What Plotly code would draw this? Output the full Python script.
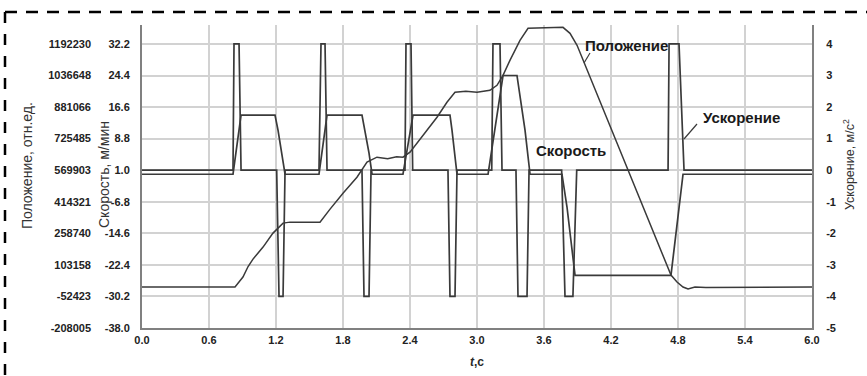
import plotly.graph_objects as go

# ---------------- data ----------------
# acceleration, m/s^2
t_acc = [0.0, 0.815, 0.824, 0.869, 0.887,
         1.206, 1.227, 1.263, 1.281,
         1.585, 1.603, 1.639, 1.657,
         1.970, 1.988, 2.033, 2.051,
         2.355, 2.364, 2.409, 2.424,
         2.740, 2.758, 2.803, 2.821,
         3.132, 3.143, 3.206, 3.224,
         3.349, 3.367, 3.448, 3.466,
         3.758, 3.788, 3.859, 3.893,
         4.711, 4.720, 4.809, 4.854, 6.0]
acc = [0, 0, 4, 4, 0,
       0, -4, -4, 0,
       0, 4, 4, 0,
       0, -4, -4, 0,
       0, 4, 4, 0,
       0, -4, -4, 0,
       0, 4, 4, 0,
       0, -4, -4, 0,
       0, -4, -4, 0,
       0, 4, 4, 0, 0]

# speed, m/min
t_speed = [0.0, 0.815, 0.887, 1.191, 1.218, 1.254, 1.281,
           1.585, 1.657, 1.970, 1.997, 2.033, 2.060,
           2.337, 2.427, 2.758, 2.776, 2.803, 2.821,
           3.099, 3.233, 3.358, 3.430, 3.475,
           3.761, 3.806, 3.851, 3.878, 4.737, 4.845, 6.0]
speed = [0, 0, 14.6, 14.6, 10.9, 5.2, 0,
         0, 14.6, 14.6, 10.9, 5.2, 0,
         0, 14.6, 14.6, 10.9, 5.2, 0,
         0, 24.4, 24.4, 10.9, 0,
         0, -8.1, -18.7, -25.0, -25.0, 0, 0]

# position, relative units
t_pos = [0.0, 0.833, 0.904, 0.950, 0.994, 1.040, 1.084, 1.173, 1.263, 1.325,
         1.594, 1.684, 1.800, 1.925, 2.015, 2.104, 2.200, 2.280, 2.337,
         2.400, 2.472, 2.552, 2.642, 2.731, 2.803, 2.900, 3.000,
         3.116, 3.179, 3.233, 3.295, 3.385, 3.457, 3.770, 3.833, 3.896,
         4.737, 4.791, 4.845, 4.890, 4.952, 5.050, 6.0]
pos = [-6141, -6141, 43094, 95000, 131717, 160000, 190799, 259728, 308963, 313886,
       313886, 377892, 456668, 535444, 609296, 633913, 626000, 636000, 633913,
       658531, 707766, 766848, 830854, 904706, 953941, 958800, 953941,
       963788, 988405, 1037641, 1111493, 1209963, 1269045, 1273969, 1244428, 1185346,
       52940, 18476, -6141, -15988, -6141, -8600, -6141]

x_ticks = [0.0, 0.6, 1.2, 1.8, 2.4, 3.0, 3.6, 4.2, 4.8, 5.4, 6.0]
speed_ticks = [-38.0, -30.2, -22.4, -14.6, -6.8, 1.0, 8.8, 16.6, 24.4, 32.2]
pos_ticks = [-208005, -52423, 103158, 258740, 414321, 569903, 725485, 881066, 1036648, 1192230]
acc_ticks = [-5, -4, -3, -2, -1, 0, 1, 2, 3, 4]

# ---------------- layout helpers ----------------
W, H = 867, 376
L, R, T, B = 142, 812, 25, 328


def px(x):
    return (x - L) / (R - L)


def py(y):
    return (B - y) / (B - T)


LINE = "#3a3a3a"
GRID = "#d2d2d2"
AXIS = "#808080"
TICKFONT = dict(family="Liberation Sans, Arial", size=11, color="#222222", weight="bold")

fig = go.Figure()
fig.add_trace(go.Scatter(x=t_pos, y=pos, mode="lines", yaxis="y2",
                         line=dict(color=LINE, width=1.5), showlegend=False))
fig.add_trace(go.Scatter(x=t_speed, y=speed, mode="lines", yaxis="y",
                         line=dict(color=LINE, width=1.7), showlegend=False))
fig.add_trace(go.Scatter(x=t_acc, y=acc, mode="lines", yaxis="y3",
                         line=dict(color=LINE, width=1.7), showlegend=False))

frac = 0.6
sp_step = speed_ticks[1] - speed_ticks[0]
pos_step = pos_ticks[1] - pos_ticks[0]

fig.update_layout(
    width=W, height=H,
    margin=dict(l=L, r=W - R, t=T, b=H - B),
    paper_bgcolor="white", plot_bgcolor="white",
    xaxis=dict(range=[0, 6], tickvals=x_ticks, ticktext=[f"{v:.1f}" for v in x_ticks],
               showgrid=True, gridcolor=GRID, gridwidth=1.5, zeroline=False,
               showline=True, linecolor=AXIS, linewidth=2, ticks="",
               tickfont=TICKFONT, ticklabelstandoff=1),
    yaxis=dict(range=[speed_ticks[0], speed_ticks[-1] + frac * sp_step],
               tickvals=speed_ticks, ticktext=[f"{v:.1f}" for v in speed_ticks],
               showgrid=True, gridcolor=GRID, gridwidth=1.5, zeroline=False,
               showline=True, linecolor=AXIS, linewidth=2, ticks="",
               tickfont=TICKFONT, ticklabelstandoff=8),
    yaxis2=dict(range=[pos_ticks[0], pos_ticks[-1] + frac * pos_step],
                tickvals=pos_ticks, ticktext=[str(v) for v in pos_ticks],
                overlaying="y", side="left", anchor="x",
                showgrid=False, zeroline=False, showline=False, ticks="",
                tickfont=TICKFONT, ticklabelstandoff=50),
    yaxis3=dict(range=[acc_ticks[0], acc_ticks[-1] + frac],
                tickvals=acc_ticks, ticktext=[str(v) for v in acc_ticks],
                overlaying="y", side="right", anchor="x",
                showgrid=False, zeroline=False,
                showline=True, linecolor=AXIS, linewidth=2, ticks="",
                tickfont=TICKFONT, ticklabelstandoff=10),
)

TITLEFONT = dict(family="Liberation Sans, Arial", size=14, color="#333333")
RTITLEFONT = dict(family="Liberation Sans, Arial", size=12.5, color="#333333")
LABELFONT = dict(family="Liberation Sans, Arial", size=15, color="#1a1a1a", weight="bold")

annotations = [
    dict(text="Положение, отн.ед.", x=px(27), y=py(166), textangle=-90, font=TITLEFONT),
    dict(text="Скорость, м/мин", x=px(104), y=py(175), textangle=-90, font=TITLEFONT),
    dict(text="Ускорение, м/с<sup>2</sup>", x=px(849), y=py(165), textangle=-90, font=RTITLEFONT),
    dict(text="<i>t</i>,c", x=px(477), y=py(362),
         font=dict(family="Liberation Sans, Arial", size=12, color="#2a2a2a", weight="bold")),
    dict(text="Положение", x=px(626), y=py(45), font=LABELFONT),
    dict(text="Ускорение", x=px(741), y=py(117), font=LABELFONT),
    dict(text="Скорость", x=px(571), y=py(150), font=LABELFONT),
]
for a in annotations:
    a.update(xref="paper", yref="paper", showarrow=False, xanchor="center", yanchor="middle")
fig.update_layout(annotations=annotations)

shapes = [
    # dashed frame
    dict(type="line", x0=px(5), y0=py(12), x1=px(867), y1=py(12),
         line=dict(color="black", width=2.5, dash="12px,9px")),
    dict(type="line", x0=px(5), y0=py(12), x1=px(5), y1=py(376),
         line=dict(color="black", width=2.5, dash="11px,11px")),
    # label leaders
    dict(type="line", x0=px(590), y0=py(53), x1=px(584), y1=py(63),
         line=dict(color=LINE, width=1.2)),
    dict(type="line", x0=px(697), y0=py(124), x1=px(684), y1=py(139),
         line=dict(color=LINE, width=1.2)),
]
for s in shapes:
    s.update(xref="paper", yref="paper")
fig.update_layout(shapes=shapes)

fig.write_html("out.html")
